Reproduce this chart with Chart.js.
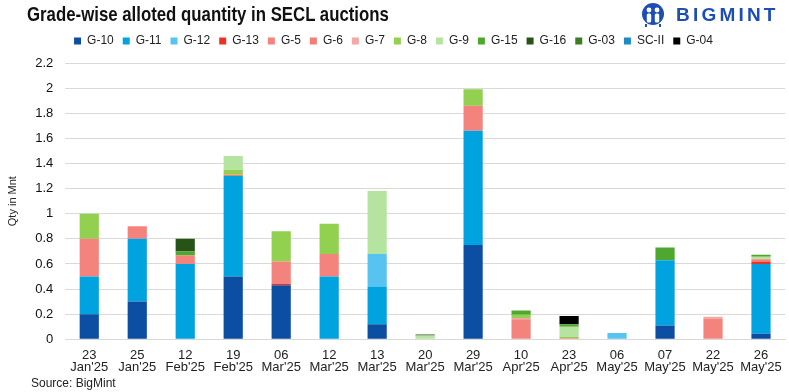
<!DOCTYPE html>
<html>
<head>
<meta charset="utf-8">
<script src="https://cdn.jsdelivr.net/npm/chart.js@4.4.1/dist/chart.umd.min.js"></script>
<style>
  html, body { margin: 0; padding: 0; background: #fff; }
  #wrap { position: relative; width: 789px; height: 392px; font-family: "Liberation Sans", Arial, sans-serif; }
  #title {
    position: absolute; left: 27px; top: 2px;
    font-size: 21px; font-weight: bold; color: #111; white-space: nowrap;
    transform: scaleX(0.8); transform-origin: left top;
  }
  #logo { position: absolute; left: 640px; top: 3px; display: flex; align-items: center; }
  #logo span { font-size: 19px; font-weight: bold; color: #1d4fb3; letter-spacing: 3.2px; margin-left: 10px; }
  #source { position: absolute; left: 31px; top: 376px; font-size: 12px; color: #222; }
</style>
</head>
<body>
<div id="wrap">
  <canvas id="chart" width="789" height="392"></canvas>
  <div id="title">Grade-wise alloted quantity in SECL auctions</div>
  <div id="logo">
    <svg width="26" height="24" viewBox="0 0 26 24">
      <circle cx="13" cy="11" r="11" fill="#1d4fb3"/>
      <circle cx="9" cy="7" r="2.4" fill="#fff"/>
      <circle cx="17" cy="7" r="2.4" fill="#fff"/>
      <rect x="6.8" y="10.5" width="4.4" height="9" rx="1.5" fill="#fff"/>
      <rect x="14.8" y="10.5" width="4.4" height="9" rx="1.5" fill="#fff"/>
      <rect x="5" y="21" width="2" height="3" fill="#1d4fb3"/>
      <rect x="19" y="21" width="2" height="3" fill="#1d4fb3"/>
    </svg>
    <span>BIGMINT</span>
  </div>
  <div id="source">Source: BigMint</div>
</div>
<script>
const dates = [
  ['23', "Jan'25"], ['25', "Jan'25"], ['12', "Feb'25"], ['19', "Feb'25"], ['06', "Mar'25"],
  ['12', "Mar'25"], ['13', "Mar'25"], ['20', "Mar'25"], ['29', "Mar'25"], ['10', "Apr'25"],
  ['23', "Apr'25"], ['06', "May'25"], ['07', "May'25"], ['22', "May'25"], ['26', "May'25"]
];

const grades = ['G-10', 'G-11', 'G-12', 'G-13', 'G-5', 'G-6', 'G-7', 'G-8', 'G-9', 'G-15', 'G-16', 'G-03', 'SC-II', 'G-04'];

// Qty in Mnt, one array per grade (same order as dates)
const g10  = [0.2, 0.3, 0, 0.5, 0.43, 0, 0.12, 0, 0.75, 0, 0, 0, 0.11, 0, 0.045];
const g11  = [0.3, 0.5, 0.6, 0.8, 0, 0.5, 0.3, 0, 0.91, 0, 0, 0, 0.52, 0, 0.555];
const g12  = [0, 0, 0, 0, 0, 0, 0.26, 0, 0, 0, 0, 0.05, 0, 0, 0];
const g13  = [0, 0, 0, 0, 0.01, 0, 0, 0, 0, 0, 0, 0, 0, 0, 0.02];
const g5   = [0.3, 0.1, 0.067, 0, 0.18, 0.18, 0, 0, 0.2, 0.16, 0.01, 0, 0, 0.165, 0.018];
const g6   = [0, 0, 0, 0.01, 0, 0, 0, 0, 0, 0, 0, 0, 0, 0, 0];
const g7   = [0, 0, 0, 0, 0, 0, 0, 0, 0, 0.01, 0, 0, 0, 0.015, 0];
const g8   = [0.2, 0, 0, 0.04, 0.24, 0.24, 0, 0, 0.13, 0.025, 0.01, 0, 0, 0, 0];
const g9   = [0, 0, 0, 0.11, 0, 0, 0.5, 0.03, 0, 0, 0.08, 0, 0, 0, 0.02];
const g15  = [0, 0, 0.033, 0, 0, 0, 0, 0, 0, 0.035, 0.02, 0, 0.1, 0, 0.015];
const g16  = [0, 0, 0.1, 0, 0, 0, 0, 0.008, 0, 0, 0, 0, 0, 0, 0];
const g03  = [0, 0, 0, 0, 0, 0, 0, 0, 0, 0, 0, 0, 0, 0, 0];
const scII = [0, 0, 0, 0, 0, 0, 0, 0, 0, 0, 0, 0, 0, 0, 0];
const g04  = [0, 0, 0, 0, 0, 0, 0, 0, 0, 0, 0.065, 0, 0, 0, 0];

const series = [g10, g11, g12, g13, g5, g6, g7, g8, g9, g15, g16, g03, scII, g04];
const colors = ['#0b4ea2', '#00a3e0', '#56c3f0', '#ee3124', '#f4837d', '#f37e74', '#f4a7a3',
                '#92d050', '#b5e3a0', '#4ea72e', '#275317', '#3b7d23', '#1f8ac8', '#000000'];

// push the plot area a little lower under the legend
const legendGap = {
  id: 'legendGap',
  beforeInit(chart) {
    const fit = chart.legend.fit;
    chart.legend.fit = function () {
      fit.call(this);
      this.height += 6;
    };
  }
};

new Chart(document.getElementById('chart'), {
  type: 'bar',
  data: {
    labels: dates,
    datasets: grades.map((g, i) => ({
      label: g,
      data: series[i],
      backgroundColor: colors[i],
      borderWidth: 0,
      barPercentage: 0.4,
      categoryPercentage: 1
    }))
  },
  options: {
    responsive: false,
    devicePixelRatio: 1,
    animation: false,
    layout: { padding: { top: 26, left: 2, right: 4, bottom: 16 } },
    plugins: {
      tooltip: { enabled: false },
      legend: {
        position: 'top',
        labels: {
          boxWidth: 7, boxHeight: 7, padding: 9,
          color: '#222',
          font: { size: 12, family: '"Liberation Sans", Arial, sans-serif' }
        }
      }
    },
    scales: {
      x: {
        stacked: true,
        grid: { display: false },
        border: { display: true, color: '#d9d9d9' },
        ticks: {
          color: '#222', maxRotation: 0, autoSkip: false, padding: 2,
          font: { size: 13, lineHeight: 0.95, family: '"Liberation Sans", Arial, sans-serif' }
        }
      },
      y: {
        stacked: true,
        min: 0, max: 2.2,
        grid: { color: '#d9d9d9', lineWidth: 1, drawTicks: false },
        border: { display: false },
        title: {
          display: true, text: 'Qty in Mnt', color: '#222',
          font: { size: 11, family: '"Liberation Sans", Arial, sans-serif' }
        },
        ticks: {
          stepSize: 0.2, padding: 12, color: '#111',
          font: { size: 13, family: '"Liberation Sans", Arial, sans-serif' },
          callback: v => String(Math.round(v * 10) / 10)
        }
      }
    }
  },
  plugins: [legendGap]
});
</script>
</body>
</html>
